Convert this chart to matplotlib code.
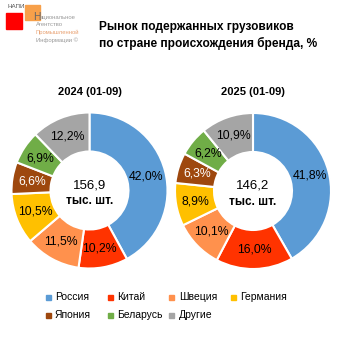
import numpy as np
import matplotlib
matplotlib.use("Agg")
import matplotlib.pyplot as plt
from matplotlib.patches import Rectangle

plt.rcParams['font.family'] = ['Liberation Sans', 'DejaVu Sans']

countries = ['Россия', 'Китай', 'Швеция', 'Германия', 'Япония', 'Беларусь', 'Другие']
colors = ['#5B9BD5', '#FF3300', '#FF914D', '#FFC000', '#9E480E', '#70AD47', '#A5A5A5']
share_2024 = [42.0, 10.2, 11.5, 10.5, 6.6, 6.9, 12.2]
share_2025 = [41.8, 16.0, 10.1, 8.9, 6.3, 6.2, 10.9]
totals = ['156,9', '146,2']
periods = ['2024 (01-09)', '2025 (01-09)']

W = H = 338
fig = plt.figure(figsize=(W / 100, H / 100), dpi=100)


def px_axes(cx, cy, r):
    return fig.add_axes([(cx - r) / W, (H - cy - r) / H, 2 * r / W, 2 * r / H])


def donut(ax, vals, total):
    wedges, _ = ax.pie(vals, colors=colors, startangle=90, counterclock=False,
                       radius=1.0, wedgeprops=dict(width=0.5, edgecolor='white', linewidth=1.5))
    for w, v, c in zip(wedges, vals, colors):
        ang = np.deg2rad((w.theta1 + w.theta2) / 2)
        tc = 'white' if c == '#9E480E' else 'black'
        ax.text(0.75 * np.cos(ang), 0.75 * np.sin(ang), f"{v:.1f}%".replace('.', ','),
                ha='center', va='center', fontsize=8.8, color=tc)
    ax.text(0, 0.07, total, ha='center', va='center', fontsize=9.5)
    ax.text(0, -0.14, 'тыс. шт.', ha='center', va='center', fontsize=8.5, fontweight='bold')
    ax.set_xlim(-1, 1)
    ax.set_ylim(-1, 1)
    ax.set_aspect('equal')
    ax.axis('off')


ax1 = px_axes(89.5, 190.5, 78)
donut(ax1, share_2024, totals[0])
ax2 = px_axes(253, 191, 78)
donut(ax2, share_2025, totals[1])

fig.text(89.5 / W, 1 - 92 / H, periods[0], ha='center', va='center', fontsize=8, fontweight='bold')
fig.text(253 / W, 1 - 92 / H, periods[1], ha='center', va='center', fontsize=8, fontweight='bold')

# title
fig.text(99 / W, 1 - 27 / H, 'Рынок подержанных грузовиков', ha='left', va='center',
         fontsize=8.6, fontweight='bold')
fig.text(99 / W, 1 - 43 / H, 'по стране происхождения бренда, %', ha='left', va='center',
         fontsize=8.6, fontweight='bold')

# logo
fig.patches.append(Rectangle((6 / W, 1 - 29 / H), 16 / W, 16 / H, transform=fig.transFigure,
                             color='#FF0000'))
fig.patches.append(Rectangle((25 / W, 1 - 20 / H), 15 / W, 15 / H, transform=fig.transFigure,
                             color='#F7A04A'))
fig.text(7 / W, 1 - 7 / H, 'НАПИ', fontsize=4.5, color='#555555', ha='left', va='center')
fig.text(33 / W, 1 - 17 / H, 'Н', fontsize=7.5, color='#666666', ha='left', va='center')
logo_lines = ['ациональное', 'Агентство', 'Промышленной', 'Информации ©']
logo_cols = ['#999999', '#999999', '#E8A070', '#999999']
fig.text(40 / W, 1 - 17.5 / H, logo_lines[0], fontsize=4.2, color=logo_cols[0], ha='left', va='center')
for i in range(1, 4):
    fig.text(36 / W, 1 - (17.5 + 7.5 * i) / H, logo_lines[i], fontsize=4.2, color=logo_cols[i],
             ha='left', va='center')

# legend
leg_x = [48, 110, 172, 233]
leg_y = [297, 315]
for i, (name, c) in enumerate(zip(countries, colors)):
    x = leg_x[i % 4]
    y = leg_y[i // 4]
    fig.patches.append(Rectangle(((x - 2.5) / W, 1 - (y + 2.5) / H), 5 / W, 5 / H,
                                 transform=fig.transFigure, color=c))
    fig.text((x + 7) / W, 1 - y / H, name, fontsize=7.5, ha='left', va='center')

fig.savefig('out.png', dpi=100)
